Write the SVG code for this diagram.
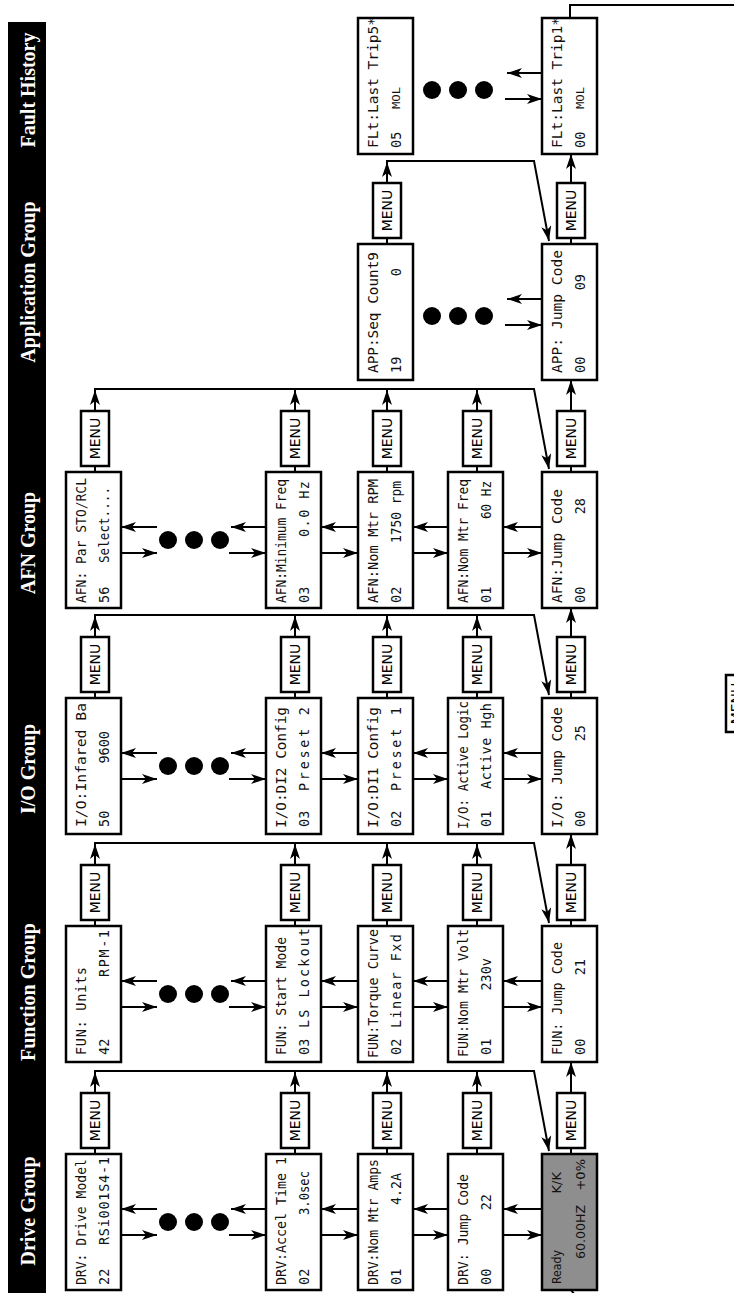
<svg xmlns="http://www.w3.org/2000/svg" width="734" height="1293" viewBox="0 0 734 1293">
<style>
.bx{fill:#fff;stroke:#000;stroke-width:2.5}
.gy{fill:#8e8e8e;stroke:#000;stroke-width:2.5}
.mb{fill:#fff;stroke:#000;stroke-width:2.5}
.t{font-family:"DejaVu Sans Mono",monospace;font-size:13.5px;fill:#111}
.e{text-anchor:end}
.s{font-family:"DejaVu Sans",sans-serif;font-size:13px;fill:#111}
.m{font-family:"DejaVu Sans",sans-serif;font-size:14px;text-anchor:middle;fill:#000}
.h{font-family:"Liberation Serif",serif;font-weight:bold;font-size:20px;fill:#fff;text-anchor:middle}
.ln{fill:none;stroke:#000;stroke-width:2}
.ar{fill:none;stroke:#000;stroke-width:2;marker-end:url(#ah)}
</style>
<defs>
<marker id="ah" viewBox="0 0 15 10" refX="15" refY="5" markerWidth="15" markerHeight="10" markerUnits="userSpaceOnUse" orient="auto"><path d="M0,0 L15,5 L0,10 L4,5 z" fill="#000"/></marker>
</defs>
<rect width="734" height="1293" fill="#fff"/>
<g transform="matrix(0,-1,1,0,0,1293)">
<g id="header">
<rect x="0" y="8" width="1271" height="38" fill="#000"/>
<text class="h" x="82" y="35">Drive Group</text>
<text class="h" x="301" y="35">Function Group</text>
<text class="h" x="524" y="35">I/O Group</text>
<text class="h" x="750" y="35">AFN Group</text>
<text class="h" x="1011" y="35">Application Group</text>
<text class="h" x="1203" y="35">Fault History</text>
</g>
<g id="connectors">
<path class="ar" d="M58,121V157"/><path class="ar" d="M84,157V121"/>
<path class="ar" d="M58,229V266"/><path class="ar" d="M84,266V231"/>
<path class="ar" d="M58,321V358"/><path class="ar" d="M84,358V321"/>
<path class="ar" d="M58,413V448"/><path class="ar" d="M84,448V413"/>
<path class="ar" d="M58,503V542"/><path class="ar" d="M84,542V503"/>
<path class="ar" d="M286,121V157"/><path class="ar" d="M312,157V121"/>
<path class="ar" d="M286,229V266"/><path class="ar" d="M312,266V231"/>
<path class="ar" d="M286,321V358"/><path class="ar" d="M312,358V321"/>
<path class="ar" d="M286,413V448"/><path class="ar" d="M312,448V413"/>
<path class="ar" d="M286,503V542"/><path class="ar" d="M312,542V503"/>
<path class="ar" d="M514,121V157"/><path class="ar" d="M540,157V121"/>
<path class="ar" d="M514,229V266"/><path class="ar" d="M540,266V231"/>
<path class="ar" d="M514,321V358"/><path class="ar" d="M540,358V321"/>
<path class="ar" d="M514,413V448"/><path class="ar" d="M540,448V413"/>
<path class="ar" d="M514,503V542"/><path class="ar" d="M540,542V503"/>
<path class="ar" d="M740,121V157"/><path class="ar" d="M766,157V121"/>
<path class="ar" d="M740,229V266"/><path class="ar" d="M766,266V231"/>
<path class="ar" d="M740,321V358"/><path class="ar" d="M766,358V321"/>
<path class="ar" d="M740,413V448"/><path class="ar" d="M766,448V413"/>
<path class="ar" d="M740,503V542"/><path class="ar" d="M766,542V503"/>
<path class="ar" d="M968,505V542"/><path class="ar" d="M994,542V507"/>
<path class="ar" d="M1194,505V542"/><path class="ar" d="M1220,542V507"/>
<path class="ln" d="M139,95H145M139,295H145M139,387H145M139,477H145M139,571H145"/>
<path class="ln" d="M367,95H373M367,295H373M367,387H373M367,477H373M367,571H373"/>
<path class="ln" d="M595,95H601M595,295H601M595,387H601M595,477H601M595,571H601"/>
<path class="ln" d="M821,95H827M821,295H827M821,387H827M821,477H827M821,571H827"/>
<path class="ln" d="M1049,387H1055M1049,571H1055"/>
<path class="ar" d="M200,95H221"/><path class="ar" d="M200,295H221"/><path class="ar" d="M200,387H221"/><path class="ar" d="M200,477H221"/>
<path class="ar" d="M428,95H449"/><path class="ar" d="M428,295H449"/><path class="ar" d="M428,387H449"/><path class="ar" d="M428,477H449"/>
<path class="ar" d="M656,95H677"/><path class="ar" d="M656,295H677"/><path class="ar" d="M656,387H677"/><path class="ar" d="M656,477H677"/>
<path class="ar" d="M882,95H903"/><path class="ar" d="M882,295H903"/><path class="ar" d="M882,387H903"/><path class="ar" d="M882,477H903"/>
<path class="ar" d="M1110,387H1131"/>
<path class="ar" d="M222,94V534L142,549"/>
<path class="ar" d="M450,94V534L370,549"/>
<path class="ar" d="M678,94V534L598,549"/>
<path class="ar" d="M904,94V534L824,549"/>
<path class="ar" d="M1132,386V534L1052,549"/>
<path class="ar" d="M200,571H231"/>
<path class="ar" d="M428,571H459"/>
<path class="ar" d="M656,571H685"/>
<path class="ar" d="M882,571H913"/>
<path class="ar" d="M1110,571H1139"/>
<path class="ln" d="M1275,570H1288V745"/>
<path class="ln" d="M-6,578L3,571"/>
</g>
<g id="dots" fill="#000">
<circle cx="71" cy="168" r="9"/><circle cx="71" cy="194" r="9"/><circle cx="71" cy="220" r="9"/>
<circle cx="299" cy="168" r="9"/><circle cx="299" cy="194" r="9"/><circle cx="299" cy="220" r="9"/>
<circle cx="527" cy="168" r="9"/><circle cx="527" cy="194" r="9"/><circle cx="527" cy="220" r="9"/>
<circle cx="753" cy="168" r="9"/><circle cx="753" cy="194" r="9"/><circle cx="753" cy="220" r="9"/>
<circle cx="977" cy="432" r="9"/><circle cx="977" cy="458" r="9"/><circle cx="977" cy="484" r="9"/>
<circle cx="1203" cy="432" r="9"/><circle cx="1203" cy="458" r="9"/><circle cx="1203" cy="484" r="9"/>
</g>
<g id="menus">
<rect class="mb" x="145" y="81" width="55" height="28"/><text class="m" x="172.5" y="100">MENU</text>
<rect class="mb" x="145" y="281" width="55" height="28"/><text class="m" x="172.5" y="300">MENU</text>
<rect class="mb" x="145" y="373" width="55" height="28"/><text class="m" x="172.5" y="392">MENU</text>
<rect class="mb" x="145" y="463" width="55" height="28"/><text class="m" x="172.5" y="482">MENU</text>
<rect class="mb" x="145" y="557" width="55" height="28"/><text class="m" x="172.5" y="576">MENU</text>
<rect class="mb" x="373" y="81" width="55" height="28"/><text class="m" x="400.5" y="100">MENU</text>
<rect class="mb" x="373" y="281" width="55" height="28"/><text class="m" x="400.5" y="300">MENU</text>
<rect class="mb" x="373" y="373" width="55" height="28"/><text class="m" x="400.5" y="392">MENU</text>
<rect class="mb" x="373" y="463" width="55" height="28"/><text class="m" x="400.5" y="482">MENU</text>
<rect class="mb" x="373" y="557" width="55" height="28"/><text class="m" x="400.5" y="576">MENU</text>
<rect class="mb" x="601" y="81" width="55" height="28"/><text class="m" x="628.5" y="100">MENU</text>
<rect class="mb" x="601" y="281" width="55" height="28"/><text class="m" x="628.5" y="300">MENU</text>
<rect class="mb" x="601" y="373" width="55" height="28"/><text class="m" x="628.5" y="392">MENU</text>
<rect class="mb" x="601" y="463" width="55" height="28"/><text class="m" x="628.5" y="482">MENU</text>
<rect class="mb" x="601" y="557" width="55" height="28"/><text class="m" x="628.5" y="576">MENU</text>
<rect class="mb" x="827" y="81" width="55" height="28"/><text class="m" x="854.5" y="100">MENU</text>
<rect class="mb" x="827" y="281" width="55" height="28"/><text class="m" x="854.5" y="300">MENU</text>
<rect class="mb" x="827" y="373" width="55" height="28"/><text class="m" x="854.5" y="392">MENU</text>
<rect class="mb" x="827" y="463" width="55" height="28"/><text class="m" x="854.5" y="482">MENU</text>
<rect class="mb" x="827" y="557" width="55" height="28"/><text class="m" x="854.5" y="576">MENU</text>
<rect class="mb" x="1055" y="373" width="55" height="28"/><text class="m" x="1082.5" y="392">MENU</text>
<rect class="mb" x="1055" y="557" width="55" height="28"/><text class="m" x="1082.5" y="576">MENU</text>
<rect class="mb" x="561" y="726" width="57" height="28"/><text class="m" x="589.5" y="741">MENU</text>
</g>
<g id="drv-model"><rect class="bx" x="3" y="66" width="136" height="55"/><text class="t" x="8" y="86" textLength="126" lengthAdjust="spacingAndGlyphs">DRV: Drive Model</text><text class="t" x="8" y="109">22</text><text class="t e" x="136" y="109" textLength="88" lengthAdjust="spacing">RSi001S4-1</text></g>
<g id="drv-accel"><rect class="bx" x="3" y="266" width="136" height="55"/><text class="t" x="8" y="286" textLength="128" lengthAdjust="spacingAndGlyphs">DRV:Accel Time 1</text><text class="t" x="8" y="309">02</text><text class="t e" x="122" y="309" textLength="44" lengthAdjust="spacingAndGlyphs">3.0sec</text></g>
<g id="drv-amps"><rect class="bx" x="3" y="358" width="136" height="55"/><text class="t" x="8" y="378" textLength="126" lengthAdjust="spacingAndGlyphs">DRV:Nom Mtr Amps</text><text class="t" x="8" y="401">01</text><text class="t e" x="120" y="401" textLength="32" lengthAdjust="spacingAndGlyphs">4.2A</text></g>
<g id="drv-jump"><rect class="bx" x="3" y="448" width="136" height="55"/><text class="t" x="8" y="468" textLength="111" lengthAdjust="spacingAndGlyphs">DRV: Jump Code</text><text class="t" x="8" y="491">00</text><text class="t e" x="99" y="491">22</text></g>
<g id="ready"><rect class="gy" x="3" y="542" width="136" height="55"/><text class="s" x="9" y="561" textLength="34" lengthAdjust="spacingAndGlyphs">Ready</text><text class="s e" x="121" y="561">K/K</text><text class="s" x="34" y="585" textLength="54" lengthAdjust="spacingAndGlyphs">60.00HZ</text><text class="s e" x="134" y="585">+0%</text></g>
<g id="fun-units"><rect class="bx" x="231" y="66" width="136" height="55"/><text class="t" x="238" y="86" textLength="88" lengthAdjust="spacing">FUN: Units</text><text class="t" x="238" y="109">42</text><text class="t e" x="363" y="109" textLength="47" lengthAdjust="spacing">RPM-1</text></g>
<g id="fun-start"><rect class="bx" x="231" y="266" width="136" height="55"/><text class="t" x="238" y="286" textLength="118" lengthAdjust="spacingAndGlyphs">FUN: Start Mode</text><text class="t" x="238" y="309">03</text><text class="t e" x="365" y="309" textLength="100" lengthAdjust="spacing">LS Lockout</text></g>
<g id="fun-torque"><rect class="bx" x="231" y="358" width="136" height="55"/><text class="t" x="235" y="378" textLength="129" lengthAdjust="spacingAndGlyphs">FUN:Torque Curve</text><text class="t" x="238" y="401">02</text><text class="t e" x="359" y="401" textLength="94" lengthAdjust="spacing">Linear Fxd</text></g>
<g id="fun-volt"><rect class="bx" x="231" y="448" width="136" height="55"/><text class="t" x="236" y="468" textLength="128" lengthAdjust="spacingAndGlyphs">FUN:Nom Mtr Volt</text><text class="t" x="238" y="491">01</text><text class="t e" x="335" y="491">230v</text></g>
<g id="fun-jump"><rect class="bx" x="231" y="542" width="136" height="55"/><text class="t" x="238" y="562" textLength="113" lengthAdjust="spacingAndGlyphs">FUN: Jump Code</text><text class="t" x="238" y="585">00</text><text class="t e" x="334" y="585">21</text></g>
<g id="io-baud"><rect class="bx" x="459" y="66" width="136" height="55"/><text class="t" x="466" y="86" textLength="124" lengthAdjust="spacingAndGlyphs">I/O:Infared Ba</text><text class="t" x="466" y="109">50</text><text class="t e" x="562" y="109">9600</text></g>
<g id="io-di2"><rect class="bx" x="459" y="266" width="136" height="55"/><text class="t" x="465" y="286" textLength="121" lengthAdjust="spacingAndGlyphs">I/O:DI2 Config</text><text class="t" x="466" y="309">03</text><text class="t e" x="586" y="309" textLength="84" lengthAdjust="spacing">Preset 2</text></g>
<g id="io-di1"><rect class="bx" x="459" y="358" width="136" height="55"/><text class="t" x="465" y="378" textLength="121" lengthAdjust="spacingAndGlyphs">I/O:DI1 Config</text><text class="t" x="466" y="401">02</text><text class="t e" x="586" y="401" textLength="84" lengthAdjust="spacing">Preset 1</text></g>
<g id="io-logic"><rect class="bx" x="459" y="448" width="136" height="55"/><text class="t" x="464" y="468" textLength="128" lengthAdjust="spacingAndGlyphs">I/O: Active Logic</text><text class="t" x="466" y="491">01</text><text class="t e" x="590" y="491" textLength="86" lengthAdjust="spacing">Active Hgh</text></g>
<g id="io-jump"><rect class="bx" x="459" y="542" width="136" height="55"/><text class="t" x="465" y="562" textLength="121" lengthAdjust="spacingAndGlyphs">I/O: Jump Code</text><text class="t" x="466" y="585">00</text><text class="t e" x="568" y="585">25</text></g>
<g id="afn-par"><rect class="bx" x="685" y="66" width="136" height="55"/><text class="t" x="690" y="86" textLength="125" lengthAdjust="spacingAndGlyphs">AFN: Par STO/RCL</text><text class="t" x="690" y="109">56</text><text class="t e" x="806" y="109" textLength="76" lengthAdjust="spacingAndGlyphs">Select....</text></g>
<g id="afn-minf"><rect class="bx" x="685" y="266" width="136" height="55"/><text class="t" x="690" y="286" textLength="124" lengthAdjust="spacingAndGlyphs">AFN:Minimum Freq</text><text class="t" x="690" y="309">03</text><text class="t e" x="812" y="309" textLength="56" lengthAdjust="spacing">0.0 Hz</text></g>
<g id="afn-rpm"><rect class="bx" x="685" y="358" width="136" height="55"/><text class="t" x="690" y="378" textLength="124" lengthAdjust="spacingAndGlyphs">AFN:Nom Mtr RPM</text><text class="t" x="690" y="401">02</text><text class="t e" x="812" y="401" textLength="62" lengthAdjust="spacingAndGlyphs">1750 rpm</text></g>
<g id="afn-freq"><rect class="bx" x="685" y="448" width="136" height="55"/><text class="t" x="690" y="468" textLength="124" lengthAdjust="spacingAndGlyphs">AFN:Nom Mtr Freq</text><text class="t" x="690" y="491">01</text><text class="t e" x="812" y="491" textLength="38" lengthAdjust="spacingAndGlyphs">60 Hz</text></g>
<g id="afn-jump"><rect class="bx" x="685" y="542" width="136" height="55"/><text class="t" x="690" y="562" textLength="114" lengthAdjust="spacingAndGlyphs">AFN:Jump Code</text><text class="t" x="690" y="585">00</text><text class="t e" x="795" y="585">28</text></g>
<g id="app-seq"><rect class="bx" x="913" y="358" width="136" height="55"/><text class="t" x="920" y="378" textLength="121" lengthAdjust="spacingAndGlyphs">APP:Seq Count9</text><text class="t" x="920" y="401">19</text><text class="t e" x="1025" y="401">0</text></g>
<g id="app-jump"><rect class="bx" x="913" y="542" width="136" height="55"/><text class="t" x="920" y="562" textLength="123" lengthAdjust="spacingAndGlyphs">APP: Jump Code</text><text class="t" x="920" y="585">00</text><text class="t e" x="1019" y="585">09</text></g>
<g id="flt-trip5"><rect class="bx" x="1139" y="358" width="136" height="55"/><text class="t" x="1145" y="378" textLength="131" lengthAdjust="spacingAndGlyphs">FLt:Last Trip5*</text><text class="t" x="1145" y="401">05</text><text class="t" x="1184" y="400" style="font-size:11px" textLength="22" lengthAdjust="spacingAndGlyphs">MOL</text></g>
<g id="flt-trip1"><rect class="bx" x="1139" y="542" width="136" height="55"/><text class="t" x="1145" y="562" textLength="131" lengthAdjust="spacingAndGlyphs">FLt:Last Trip1*</text><text class="t" x="1145" y="585">00</text><text class="t" x="1184" y="584" style="font-size:11px" textLength="22" lengthAdjust="spacingAndGlyphs">MOL</text></g>
</g>
</svg>
